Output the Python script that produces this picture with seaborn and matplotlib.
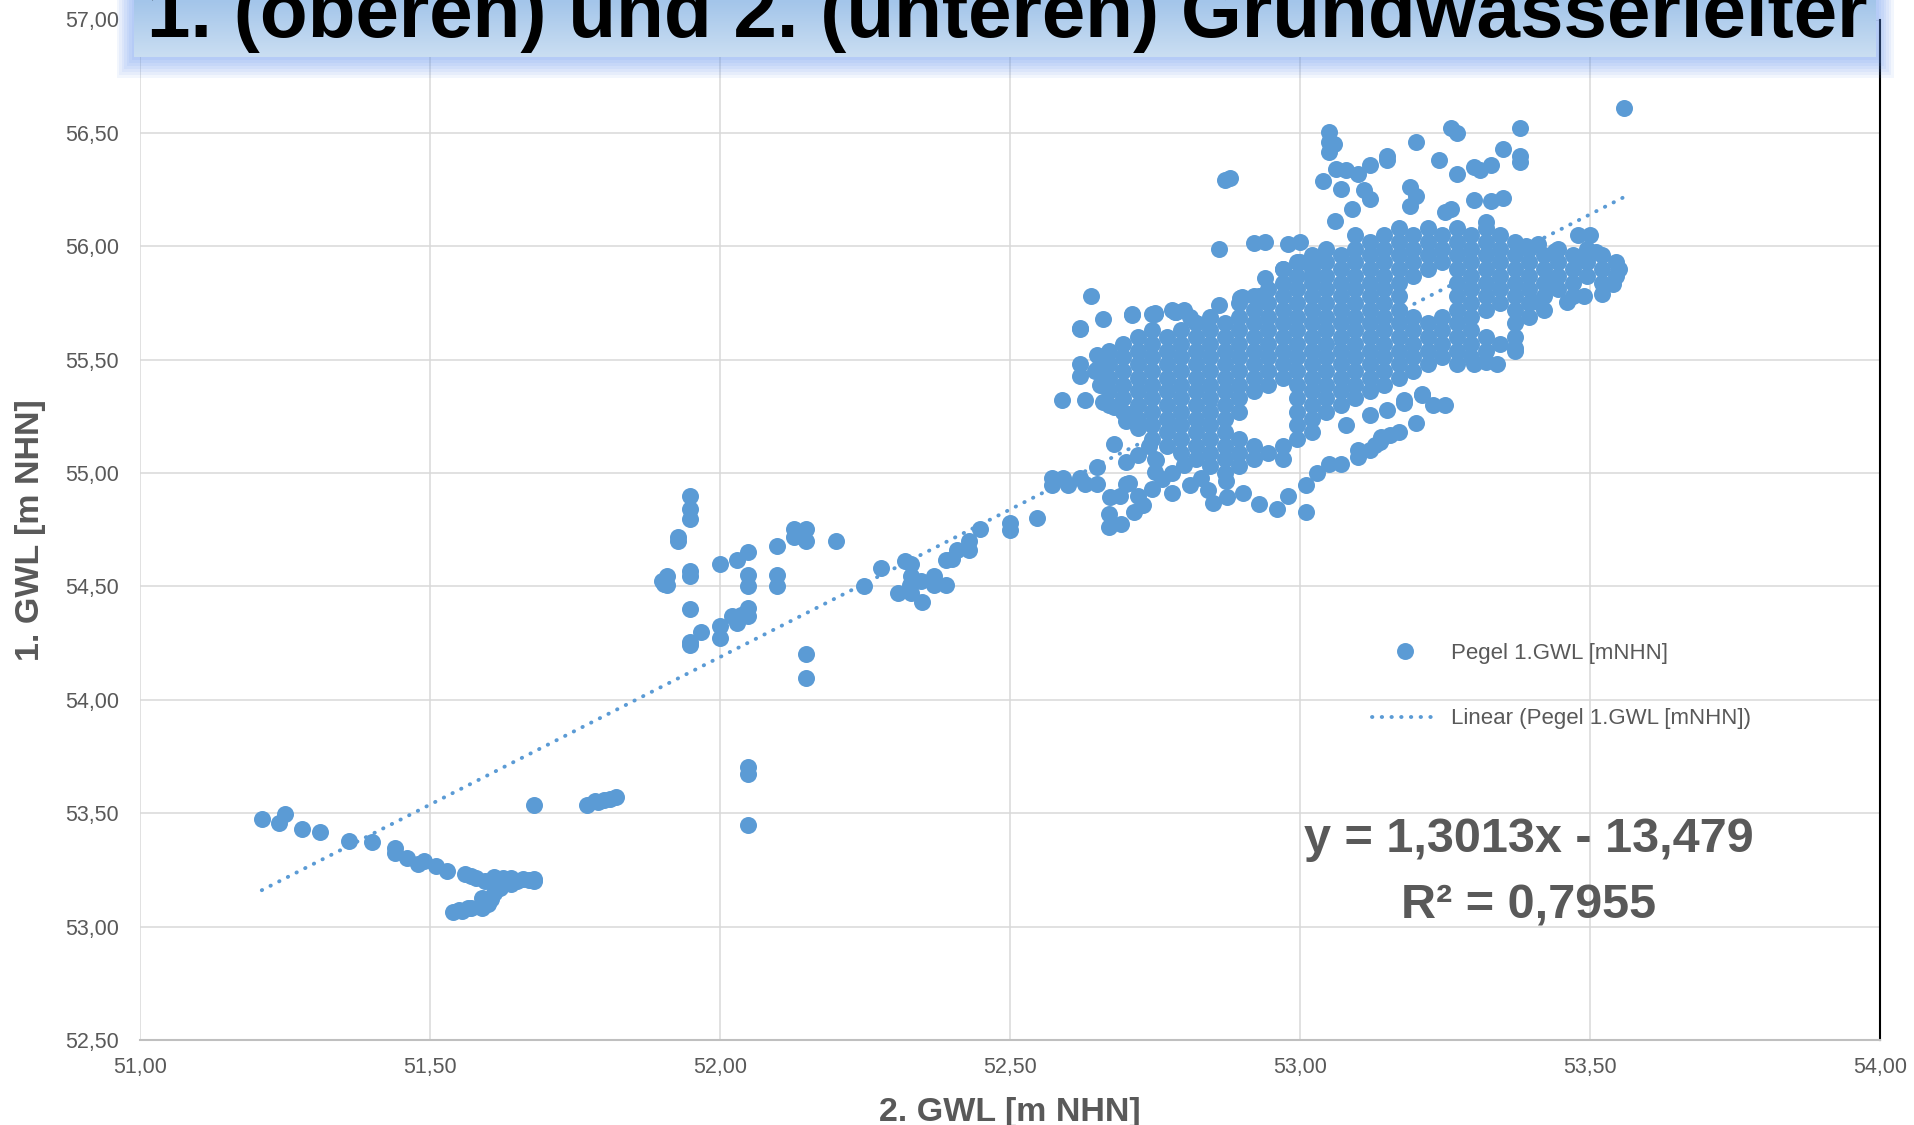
import numpy as np
import pandas as pd
import matplotlib
matplotlib.use("Agg")
import matplotlib.pyplot as plt
import matplotlib.patches as mpatches
from matplotlib.lines import Line2D
from matplotlib.colors import LinearSegmentedColormap
import seaborn as sns

# ---- Data: (2. GWL, 1. GWL) in m NHN ----
low_pts = [
    (51.21, 53.475), (51.24, 53.455), (51.25, 53.497), (51.28, 53.43), (51.31, 53.416),
    (51.36, 53.376), (51.40, 53.375), (51.44, 53.347), (51.44, 53.325), (51.46, 53.303),
    (51.48, 53.274), (51.49, 53.288), (51.51, 53.266), (51.53, 53.244), (51.56, 53.233),
    (51.57, 53.225), (51.58, 53.215), (51.595, 53.20), (51.61, 53.22), (51.62, 53.205),
    (51.625, 53.215), (51.64, 53.215), (51.65, 53.20), (51.66, 53.21), (51.67, 53.205),
    (51.68, 53.21), (51.68, 53.20), (51.64, 53.186), (51.62, 53.17), (51.61, 53.15),
    (51.605, 53.12), (51.59, 53.127), (51.60, 53.10), (51.59, 53.083), (51.57, 53.083),
    (51.565, 53.08), (51.555, 53.07), (51.55, 53.075), (51.54, 53.063), (51.68, 53.538),
    (51.77, 53.538), (51.785, 53.555), (51.79, 53.55), (51.80, 53.56), (51.81, 53.562),
    (51.82, 53.57),
]

mid_pts = [
    (51.948, 54.90), (51.948, 54.84), (51.948, 54.797), (51.928, 54.72), (51.928, 54.70),
    (51.948, 54.57), (51.948, 54.547), (51.90, 54.525), (51.909, 54.547), (51.903, 54.51),
    (51.909, 54.507), (51.948, 54.40), (51.968, 54.30), (51.948, 54.253), (51.948, 54.24),
    (52.00, 54.598), (52.00, 54.324), (52.00, 54.272), (52.03, 54.617), (52.048, 54.65),
    (52.048, 54.55), (52.048, 54.50), (52.02, 54.37), (52.03, 54.34), (52.036, 54.375),
    (52.048, 54.407), (52.048, 54.368), (52.099, 54.68), (52.099, 54.55), (52.099, 54.50),
    (52.128, 54.753), (52.128, 54.72), (52.149, 54.753), (52.149, 54.70), (52.138, 54.74),
    (52.20, 54.70), (52.149, 54.20), (52.149, 54.096), (52.048, 53.705), (52.048, 53.673),
    (52.048, 53.45), (52.248, 54.50), (52.278, 54.58), (52.307, 54.47), (52.319, 54.613),
    (52.33, 54.60), (52.329, 54.547), (52.327, 54.507), (52.33, 54.47), (52.349, 54.43),
    (52.346, 54.525), (52.369, 54.547), (52.369, 54.507), (52.389, 54.507), (52.389, 54.616),
    (52.40, 54.62), (52.409, 54.66), (52.43, 54.70), (52.43, 54.66), (52.448, 54.753),
    (52.50, 54.78), (52.50, 54.75), (52.547, 54.80),
]

edge_pts = [
    # left foot of the main cloud
    (52.572, 54.98), (52.572, 54.946), (52.592, 54.98), (52.60, 54.946), (52.62, 54.98),
    (52.63, 54.95), (52.65, 55.026), (52.65, 54.95), (52.68, 55.13), (52.672, 54.894),
    (52.67, 54.82), (52.67, 54.76), (52.692, 54.777), (52.70, 54.953), (52.713, 54.828),
    (52.73, 54.857), (52.744, 54.93), (52.752, 55.056), (52.75, 55.004), (52.762, 54.975),
    (52.78, 54.91), (52.78, 55.0), (52.80, 55.034), (52.81, 54.946), (52.83, 54.98),
    (52.842, 54.924), (52.85, 54.87), (52.874, 54.894), (52.902, 54.91), (52.872, 54.967),
    (52.93, 54.865), (52.96, 54.843), (52.98, 54.90), (53.01, 54.83), (53.01, 54.946),
    (53.03, 55.0), (53.05, 55.04), (53.07, 55.04), (53.10, 55.07), (53.12, 55.10),
    (53.138, 55.137), (53.155, 55.17), (52.69, 54.90), (52.72, 54.90), (52.706, 54.955),
    (52.75, 55.06), (52.70, 55.05), (52.72, 55.08), (52.74, 55.12),
    # left edge
    (52.64, 55.78), (52.66, 55.68), (52.62, 55.64), (52.71, 55.70), (52.744, 55.70),
    (52.784, 55.71), (52.81, 55.69), (52.86, 55.74), (52.90, 55.775), (52.59, 55.32),
    (52.63, 55.32), (52.66, 55.315), (52.68, 55.29), (52.706, 55.26), (52.72, 55.22),
    (52.62, 55.43), (52.65, 55.46), (52.62, 55.48), (52.646, 55.45), (52.70, 55.23),
    (52.72, 55.20), (52.75, 55.70), (52.78, 55.72), (52.80, 55.72), (52.82, 55.66),
    (52.71, 55.695), (52.62, 55.637), (52.75, 55.705), (52.787, 55.71), (52.655, 55.39),
    (52.65, 55.52),
    # upper outliers
    (53.559, 56.61), (53.05, 56.504), (53.05, 56.46), (53.059, 56.453), (53.05, 56.416),
    (53.26, 56.52), (53.27, 56.50), (53.38, 56.52), (53.20, 56.46), (53.15, 56.40),
    (53.15, 56.38), (53.24, 56.38), (53.35, 56.43), (53.38, 56.397), (53.38, 56.37),
    (53.30, 56.35), (53.31, 56.335), (53.33, 56.36), (53.27, 56.32), (53.12, 56.36),
    (53.062, 56.34), (53.08, 56.335), (53.10, 56.32), (53.04, 56.29), (52.871, 56.294),
    (52.88, 56.30), (53.071, 56.254), (53.11, 56.247), (53.12, 56.21), (53.19, 56.26),
    (53.20, 56.22), (53.19, 56.176), (53.09, 56.166), (53.30, 56.206), (53.33, 56.20),
    (53.35, 56.214), (53.06, 56.11), (53.26, 56.166), (53.25, 56.15), (53.32, 56.107),
    (52.86, 55.99), (52.92, 56.015), (52.94, 56.02), (52.98, 56.01), (53.0, 56.02),
    (53.04, 55.953), (52.97, 55.90), (53.0, 55.93), (52.896, 55.77), (52.94, 55.86),
    (52.93, 55.78), (53.02, 55.87),
    # right end
    (53.48, 56.05), (53.50, 56.05), (53.55, 55.90), (53.54, 55.835), (53.52, 55.79),
    (53.46, 55.754), (53.49, 55.78), (53.48, 55.94), (53.51, 55.975), (53.43, 55.84),
    (53.41, 55.754), (53.39, 56.0), (53.41, 56.01), (53.44, 55.98),
    # lower stripe
    (53.08, 55.21), (53.12, 55.255), (53.15, 55.28), (53.18, 55.31), (53.21, 55.35),
    (53.25, 55.30), (53.23, 55.30), (53.20, 55.22), (53.17, 55.18), (53.14, 55.15),
    (53.10, 55.10), (53.37, 55.55), (53.34, 55.48), (53.32, 55.49), (53.30, 55.48),
    (53.18, 55.32), (53.21, 55.345), (53.14, 55.16), (53.13, 55.125),
]

# dense core of the cloud, one column of 1. GWL values per 2. GWL value
core_cols = [
    (52.67, [55.54, 55.48, 55.42, 55.36, 55.30]),
    (52.695, [55.57, 55.51, 55.45, 55.39, 55.33, 55.27]),
    (52.72, [55.60, 55.54, 55.48, 55.42, 55.36, 55.30, 55.24]),
    (52.745, [55.63, 55.57, 55.51, 55.45, 55.39, 55.33, 55.27, 55.21, 55.15]),
    (52.77, [55.60, 55.54, 55.48, 55.42, 55.36, 55.30, 55.24, 55.18, 55.12]),
    (52.795, [55.63, 55.57, 55.51, 55.45, 55.39, 55.33, 55.27, 55.21, 55.15, 55.09]),
    (52.82, [55.66, 55.60, 55.54, 55.48, 55.42, 55.36, 55.30, 55.24, 55.18, 55.12, 55.06]),
    (52.845, [55.69, 55.63, 55.57, 55.51, 55.45, 55.39, 55.33, 55.27, 55.21, 55.15, 55.09, 55.03]),
    (52.87, [55.66, 55.60, 55.54, 55.48, 55.42, 55.36, 55.30, 55.24, 55.18, 55.12, 55.06, 55.00]),
    (52.895, [55.75, 55.69, 55.63, 55.57, 55.51, 55.45, 55.39, 55.33, 55.27, 55.15, 55.09, 55.03]),
    (52.92, [55.78, 55.72, 55.66, 55.60, 55.54, 55.48, 55.42, 55.36, 55.12, 55.06]),
    (52.945, [55.81, 55.75, 55.69, 55.63, 55.57, 55.51, 55.45, 55.39, 55.09]),
    (52.97, [55.90, 55.84, 55.78, 55.72, 55.66, 55.60, 55.54, 55.48, 55.42, 55.12, 55.06]),
    (52.995, [55.93, 55.87, 55.81, 55.75, 55.69, 55.63, 55.57, 55.51, 55.45, 55.39, 55.33, 55.27, 55.21, 55.15]),
    (53.02, [55.96, 55.90, 55.84, 55.78, 55.72, 55.66, 55.60, 55.54, 55.48, 55.42, 55.36, 55.30, 55.24, 55.18]),
    (53.045, [55.99, 55.93, 55.87, 55.81, 55.75, 55.69, 55.63, 55.57, 55.51, 55.45, 55.39, 55.33, 55.27]),
    (53.07, [55.96, 55.90, 55.84, 55.78, 55.72, 55.66, 55.60, 55.54, 55.48, 55.42, 55.36, 55.30]),
    (53.095, [56.05, 55.99, 55.93, 55.87, 55.81, 55.75, 55.69, 55.63, 55.57, 55.51, 55.45, 55.39, 55.33]),
    (53.12, [56.02, 55.96, 55.90, 55.84, 55.78, 55.72, 55.66, 55.60, 55.54, 55.48, 55.42, 55.36]),
    (53.145, [56.05, 55.99, 55.93, 55.87, 55.81, 55.75, 55.69, 55.63, 55.57, 55.51, 55.45, 55.39]),
    (53.17, [56.08, 56.02, 55.96, 55.90, 55.84, 55.78, 55.72, 55.66, 55.60, 55.54, 55.48, 55.42]),
    (53.195, [56.05, 55.99, 55.93, 55.87, 55.69, 55.63, 55.57, 55.51, 55.45]),
    (53.22, [56.08, 56.02, 55.96, 55.90, 55.66, 55.60, 55.54, 55.48]),
    (53.245, [56.05, 55.99, 55.93, 55.69, 55.63, 55.57, 55.51]),
    (53.27, [56.08, 56.02, 55.96, 55.90, 55.84, 55.78, 55.72, 55.66, 55.60, 55.54, 55.48]),
    (53.295, [56.05, 55.99, 55.93, 55.87, 55.81, 55.75, 55.69, 55.63, 55.57, 55.51]),
    (53.32, [56.08, 56.02, 55.96, 55.90, 55.84, 55.78, 55.72, 55.60, 55.54]),
    (53.345, [56.05, 55.99, 55.93, 55.87, 55.81, 55.75, 55.57]),
    (53.37, [56.02, 55.96, 55.90, 55.84, 55.78, 55.72, 55.66, 55.60, 55.54]),
    (53.395, [55.99, 55.93, 55.87, 55.81, 55.75, 55.69]),
    (53.42, [55.96, 55.90, 55.84, 55.78, 55.72]),
    (53.445, [55.99, 55.93, 55.87, 55.81]),
    (53.47, [55.96, 55.90, 55.84, 55.78]),
    (53.495, [55.99, 55.93, 55.87]),
    (53.52, [55.96, 55.90, 55.84]),
    (53.545, [55.93, 55.87]),
]

# trendline from the chart's equation
slope, intercept = 1.3013, -13.479
r_squared = "0,7955"

x_ticks = [51.0, 51.5, 52.0, 52.5, 53.0, 53.5, 54.0]
y_ticks = [52.5, 53.0, 53.5, 54.0, 54.5, 55.0, 55.5, 56.0, 56.5, 57.0]

title = "1. (oberen) und 2. (unteren) Grundwasserleiter"
series_name = "Pegel 1.GWL [mNHN]"

core_pts = [(x, y) for x, ys in core_cols for y in ys]
df = pd.DataFrame(low_pts + mid_pts + edge_pts + core_pts, columns=["GWL2", "GWL1"])

blue = "#5B9BD5"
gray = "#595959"
W, H = 1914, 1125

sns.set_style("white")
plt.rcParams['font.family'] = ['Liberation Sans', 'DejaVu Sans']

fig = plt.figure(figsize=(W / 100, H / 100), dpi=100)
ax = fig.add_axes([140 / W, 1 - 1040 / H, 1740 / W, (1040 - 19.5) / H])

# trendline below the points
trend_x = np.array([df["GWL2"].min(), df["GWL2"].max()])
trend_y = slope * trend_x + intercept
dotted = (0, (0.1, 2.4))
ax.plot(trend_x, trend_y, color=blue, linewidth=2.8, linestyle=dotted,
        dash_capstyle='round', zorder=2)

sns.scatterplot(data=df, x="GWL2", y="GWL1", ax=ax, color=blue, s=150,
                linewidth=0, zorder=3, legend=False)

ax.set_xlim(51, 54)
ax.set_ylim(52.5, 57)
ax.set_xticks(x_ticks)
ax.set_yticks(y_ticks)
ax.set_xticklabels([f"{v:.2f}".replace(".", ",") for v in x_ticks])
ax.set_yticklabels([f"{v:.2f}".replace(".", ",") for v in y_ticks])
ax.tick_params(axis='x', length=0, pad=12, labelsize=15.5, labelcolor=gray)
ax.tick_params(axis='y', length=0, pad=15, labelsize=15.5, labelcolor=gray)
ax.grid(True, color="#d9d9d9", linewidth=1.1)
ax.set_axisbelow(True)
for s in ["top", "left"]:
    ax.spines[s].set_visible(False)
ax.spines["bottom"].set_color("#bfbfbf")
ax.spines["bottom"].set_linewidth(1.5)
ax.spines["right"].set_color("black")
ax.spines["right"].set_linewidth(1.5)

ax.set_xlabel("2. GWL [m NHN]", fontsize=24.5, fontweight='bold', color=gray, va='center')
ax.xaxis.set_label_coords(0.5, -0.0715)
ax.set_ylabel("1. GWL [m NHN]", fontsize=24.5, fontweight='bold', color=gray, va='center')
ax.yaxis.set_label_coords(-0.063, 0.5)

# legend without frame
handles = [
    Line2D([], [], marker='o', linestyle='none', markersize=12.2, color=blue,
           markeredgewidth=0),
    Line2D([], [], color=blue, linewidth=2.8, linestyle=dotted, dash_capstyle='round'),
]
leg = ax.legend(handles, [series_name, f"Linear ({series_name})"], loc='upper left',
                bbox_to_anchor=(1372 / W, 1 - 643 / H), bbox_transform=fig.transFigure,
                frameon=False, fontsize=16, handlelength=3.0, handletextpad=0.55,
                labelspacing=2.0, borderpad=0, borderaxespad=0)
for t in leg.get_texts():
    t.set_color(gray)

# trendline equation
fig.text(1529 / W, 1 - 852 / H, f"y = {slope:.4f}x - {-intercept:.3f}".replace(".", ","),
         ha='center', va='baseline', fontsize=35, fontweight='bold', color=gray)
fig.text(1529 / W, 1 - 918 / H, f"R² = {r_squared}",
         ha='center', va='baseline', fontsize=35, fontweight='bold', color=gray)

# title box with glow
for i in range(8):
    fig.patches.append(mpatches.Rectangle(
        ((134 - i * 2.5) / W, 1 - (57 + i * 3) / H), (1742 + i * 5) / W, (57 + i * 3) / H,
        transform=fig.transFigure, facecolor="#5b8ff0", alpha=0.08, linewidth=0, zorder=4))
box_ax = fig.add_axes([134 / W, 1 - 57 / H, 1742 / W, 57 / H], zorder=5)
grad = np.linspace(0, 1, 64).reshape(-1, 1)
box_ax.imshow(grad, aspect='auto', extent=[0, 1, 0, 1],
              cmap=LinearSegmentedColormap.from_list("tb", ["#a3c5ea", "#cadef2"]))
box_ax.axis('off')

ttl = fig.text(1007 / W, 1 - 37 / H, title, ha='center', va='baseline', fontsize=56,
               fontweight='bold', color='black', zorder=6)
fig.canvas.draw()
w = ttl.get_window_extent().width
ttl.set_fontsize(56 * 1721 / w)

fig.savefig("out.png", dpi=100)
